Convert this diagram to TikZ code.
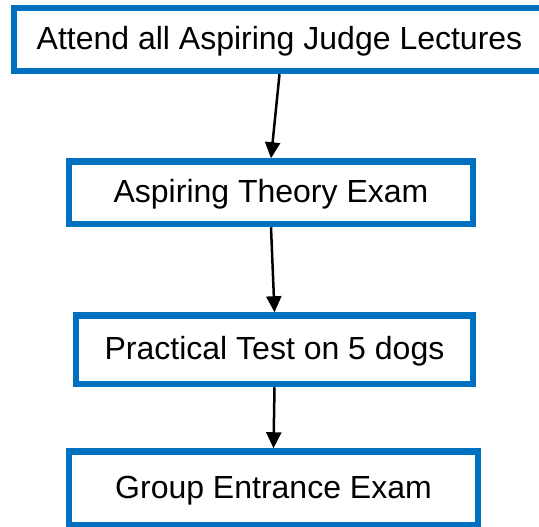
\documentclass[tikz,border=0pt]{standalone}
\usepackage{fontspec}
\setmainfont{Liberation Sans}
\usetikzlibrary{arrows.meta}
\definecolor{boxblue}{HTML}{0070C0}
\tikzset{
  stepbox/.style={draw=boxblue, line width=6.5pt, fill=white, inner sep=0pt,
    font=\fontsize{32}{36}\selectfont, text height=23pt, text depth=3.2pt},
  arr/.style={line width=2.5pt, -{Triangle[length=16pt,width=15pt]}}
}
\begin{document}
\begin{tikzpicture}[x=1pt,y=-1pt]
\useasboundingbox (0,0) rectangle (539,527);
\node[stepbox, minimum width=531pt, minimum height=63pt] (b1) at (279.5,39.5) {Attend all Aspiring Judge Lectures};
\node[stepbox, minimum width=404pt, minimum height=62.5pt] (b2) at (271,192.75) {Aspiring Theory Exam};
\node[stepbox, minimum width=397pt, minimum height=68.5pt] (b3) at (274.5,349.75) {Practical Test on 5 dogs};
\node[stepbox, minimum width=409pt, minimum height=73.5pt] (b4) at (273.5,488.25) {Group Entrance Exam};
\draw[arr] (b1.south) -- (b2.north);
\draw[arr] (b2.south) -- (b3.north);
\draw[arr] (b3.south) -- (b4.north);
\end{tikzpicture}
\end{document}
